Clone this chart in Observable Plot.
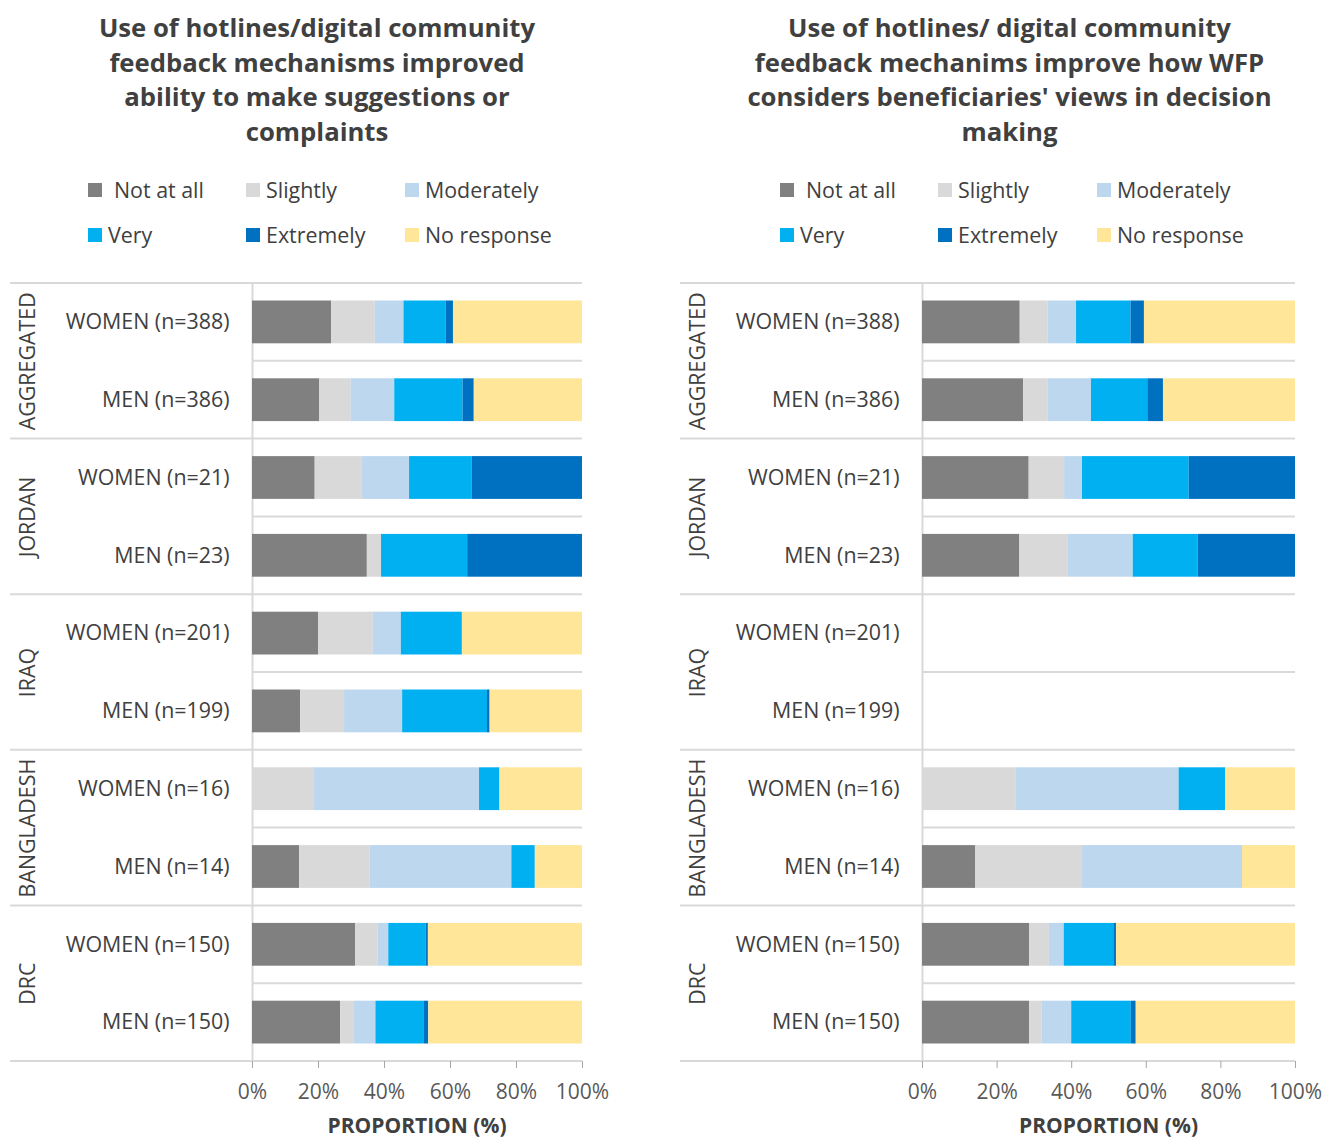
<!DOCTYPE html>
<html>
<head>
<meta charset="utf-8">
<script src="https://cdn.jsdelivr.net/npm/d3@7"></script>
<script src="https://cdn.jsdelivr.net/npm/@observablehq/plot@0.6"></script>
<style>
  body { margin: 0; background: #fff; font-family: "Open Sans", sans-serif; color: #404040; }
  #wrap { position: relative; width: 1325px; height: 1138px; overflow: hidden; }
  .panel { position: absolute; top: 0; height: 1138px; }
  .title { position: absolute; top: 11px; left: 0; font-weight: 700; font-size: 25.7px; line-height: 34.5px; text-align: center; color: #404040; }
  .legend { position: absolute; top: 178px; display: grid; grid-template-columns: 158px 159px 170px; row-gap: 21px; font-size: 21.4px; line-height: 24px; color: #404040; }
  .item { display: flex; align-items: center; white-space: nowrap; }
  .sw { width: 14px; height: 14px; margin-right: 6px; flex: none; }
  .chart { position: absolute; top: 265px; left: 0; }
  .xlabel { position: absolute; top: 1114px; font-weight: 700; font-size: 21px; line-height: 22px; transform: translateX(-50%); white-space: nowrap; color: #404040; }
</style>
</head>
<body>
<div id="wrap"></div>
<script>
// ---------- data ----------
const categories = ["Not at all", "Slightly", "Moderately", "Very", "Extremely", "No response"];
const colors = ["#808080", "#d9d9d9", "#bdd7ee", "#00b0f0", "#0070c0", "#ffe699"];
const regions = ["AGGREGATED", "JORDAN", "IRAQ", "BANGLADESH", "DRC"];
const genders = ["WOMEN", "MEN"];
const womenN = [388, 21, 201, 16, 150];
const menN = [386, 23, 199, 14, 150];
const xTicks = [0, 20, 40, 60, 80, 100];

const leftTitle = ["Use of hotlines/digital community", "feedback mechanisms improved", "ability to make suggestions or", "complaints"];
const rightTitle = ["Use of hotlines/ digital community", "feedback mechanims improve how WFP", "considers beneficiaries' views in decision", "making"];
const axisLabel = "PROPORTION (%)";

// rows: region x gender (WOMEN, MEN), values in category order (%)
const leftValues = [
  [24.0, 13.2, 8.7, 12.8, 2.2, 39.1],   // AGGREGATED WOMEN
  [20.4, 9.5, 13.2, 20.7, 3.4, 32.8],   // AGGREGATED MEN
  [19.0, 14.3, 14.3, 19.0, 33.4, 0],    // JORDAN WOMEN
  [34.8, 4.3, 0, 26.1, 34.8, 0],        // JORDAN MEN
  [20.0, 16.6, 8.5, 18.5, 0, 36.4],     // IRAQ WOMEN
  [14.6, 13.3, 17.6, 25.7, 0.8, 28.0],  // IRAQ MEN
  [0, 18.8, 50.0, 6.2, 0, 25.0],        // BANGLADESH WOMEN
  [14.3, 21.4, 42.9, 7.1, 0, 14.3],     // BANGLADESH MEN
  [31.3, 6.7, 3.3, 11.3, 0.7, 46.7],    // DRC WOMEN
  [26.7, 4.0, 6.7, 14.7, 1.3, 46.6]     // DRC MEN
];
const rightValues = [
  [26.2, 7.5, 7.6, 14.6, 3.6, 40.5],
  [27.1, 6.5, 11.7, 15.1, 4.2, 35.4],
  [28.6, 9.5, 4.8, 28.6, 28.5, 0],
  [26.1, 13.0, 17.4, 17.4, 26.1, 0],
  null,
  null,
  [0, 25.0, 43.8, 12.5, 0, 18.7],
  [14.3, 28.6, 42.9, 0, 0, 14.2],
  [28.7, 5.3, 4.0, 13.3, 0.7, 48.0],
  [28.7, 3.3, 8.0, 16.0, 1.3, 42.7]
];

// ---------- build ----------
const wrap = document.getElementById("wrap");

function buildPanel({left, width, marginRight, titleLines, titleWidth, legendLeft, values}) {
  const panel = document.createElement("div");
  panel.className = "panel";
  panel.style.left = left + "px";
  panel.style.width = width + "px";
  wrap.appendChild(panel);

  const title = document.createElement("div");
  title.className = "title";
  title.style.width = titleWidth + "px";
  title.innerHTML = titleLines.join("<br>");
  panel.appendChild(title);

  const legend = document.createElement("div");
  legend.className = "legend";
  legend.style.left = legendLeft + "px";
  categories.forEach((c, i) => {
    const it = document.createElement("div");
    it.className = "item";
    const sw = document.createElement("span");
    sw.className = "sw";
    sw.style.background = colors[i];
    if (i === 0) sw.style.marginRight = "12px";
    it.appendChild(sw);
    it.appendChild(document.createTextNode(c));
    legend.appendChild(it);
  });
  panel.appendChild(legend);

  const rows = [];
  const labelRows = [];
  regions.forEach((r, ri) => genders.forEach((g, gi) => {
    const n = gi === 0 ? womenN[ri] : menN[ri];
    labelRows.push({region: r, gender: g, label: `${g} (n=${n})`});
    const v = values[ri * 2 + gi];
    if (!v) return;
    categories.forEach((c, ci) => rows.push({region: r, gender: g, category: c, value: v[ci]}));
  }));

  const marginLeft = 252, marginTop = 18, marginBottom = 77, height = 873;
  const chart = Plot.plot({
    width, height, marginTop, marginBottom, marginLeft, marginRight,
    style: {fontFamily: "Open Sans", fontSize: "21px", color: "#595959", background: "transparent", overflow: "visible"},
    x: {domain: [0, 100], label: null},
    y: {domain: genders, axis: null, paddingInner: 0.45, paddingOuter: 0.225, round: false},
    fy: {domain: regions, axis: null, padding: 0, round: false},
    color: {domain: categories, range: colors},
    marks: [
      Plot.ruleX([0], {stroke: "#d9d9d9", strokeWidth: 2}),
      Plot.barX(rows, {x: "value", y: "gender", fy: "region", fill: "category", order: categories}),
      Plot.text(labelRows, {fy: "region", y: "gender", text: "label", frameAnchor: "left", textAnchor: "end", dx: -23, fill: "#404040", fontSize: 21.4}),
      Plot.axisFy({anchor: "left", tickSize: 0, tickPadding: 224, tickRotate: -90, textAnchor: "middle", lineAnchor: "middle", label: null, fill: "#404040", fontSize: 21.4}),
      Plot.axisX({ticks: xTicks, tickFormat: d => d + "%", tickSize: 7, tickPadding: 16, stroke: "#a6a6a6", fill: "#595959", label: null, fontSize: 21})
    ]
  });
  chart.classList.add("chart");
  panel.appendChild(chart);

  // separators derived from the plot's own scales
  const svg = d3.select(chart.tagName.toLowerCase() === "svg" ? chart : chart.querySelector("svg"));
  let fyS = null, xS = null;
  try { fyS = chart.scale("fy"); xS = chart.scale("x"); } catch (e) {}
  const fr = fyS && fyS.range ? fyS.range : [marginTop, height - marginBottom];
  const xr = xS && xS.range ? xS.range : [marginLeft, width - marginRight];
  const step = (fr[1] - fr[0]) / regions.length;
  const g = svg.insert("g", ":first-child").attr("stroke", "#d9d9d9").attr("stroke-width", 2);
  for (let i = 0; i <= regions.length; i++) {
    const yy = fr[0] + i * step;
    g.append("line").attr("x1", 10).attr("x2", xr[1]).attr("y1", yy).attr("y2", yy);
  }
  for (let i = 0; i < regions.length; i++) {
    const yy = fr[0] + i * step + step / 2;
    g.append("line").attr("x1", xr[0]).attr("x2", xr[1]).attr("y1", yy).attr("y2", yy);
  }

  const xl = document.createElement("div");
  xl.className = "xlabel";
  xl.style.left = ((xr[0] + xr[1]) / 2) + "px";
  xl.textContent = axisLabel;
  panel.appendChild(xl);
}

buildPanel({left: 0, width: 660, marginRight: 78, titleLines: leftTitle, titleWidth: 634, legendLeft: 88, values: leftValues});
buildPanel({left: 670, width: 655, marginRight: 30, titleLines: rightTitle, titleWidth: 679, legendLeft: 110, values: rightValues});
</script>
</body>
</html>
